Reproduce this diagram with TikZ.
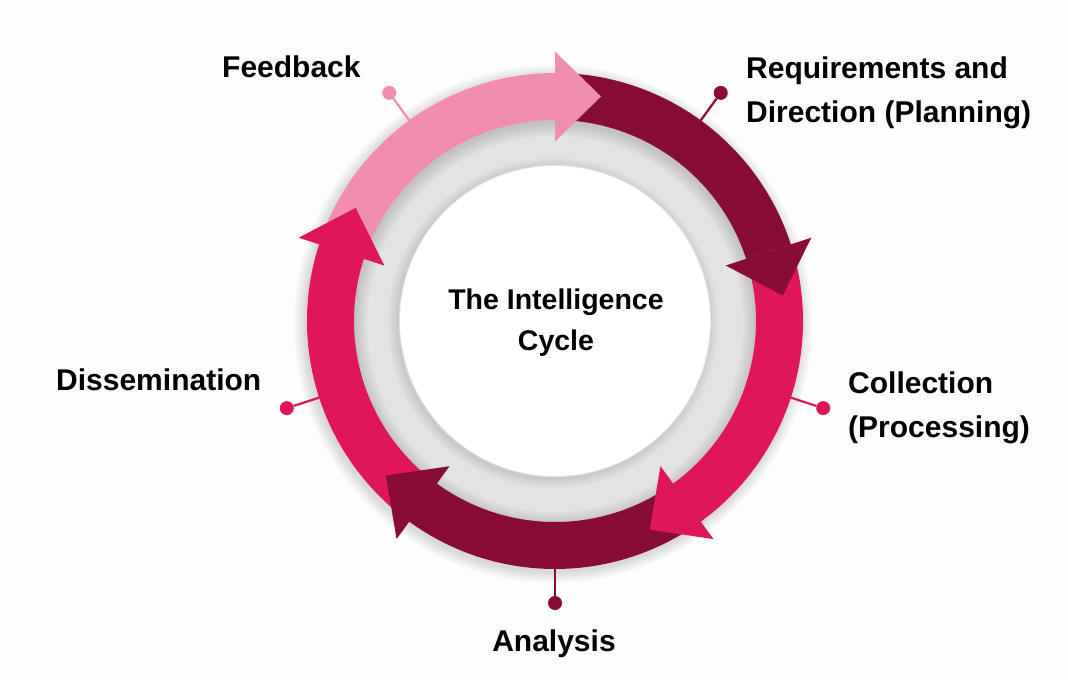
\documentclass[tikz,border=0pt]{standalone}
\usepackage{fontspec}
\setmainfont{Liberation Sans}
\usetikzlibrary{calc}
\definecolor{bgc}{HTML}{FEFDFD}
\definecolor{softpink}{HTML}{F18EAF}
\definecolor{wine}{HTML}{870D34}
\definecolor{crimson}{HTML}{DF1658}
\definecolor{ringgray}{HTML}{E3E3E3}
\begin{document}
\begin{tikzpicture}[x=1pt,y=1pt,
  lbltext/.style={font=\fontsize{30}{44}\selectfont\bfseries, inner sep=0pt, align=left},
  pindot/.style={circle, inner sep=0pt, minimum size=14pt},
  pinline/.style={line width=2.2pt}]
\fill[bgc] (0,0) rectangle (1068,681);
\path[use as bounding box] (0,0) rectangle (1068,681);
\begin{scope}[shift={(555,360)}]
  % soft shadow around the coloured ring
  \foreach \r in {249,251,...,259} {
    \fill[black, opacity=0.025] (-2,-3) circle[radius=\r];
  }
  % grey band and white core
  \fill[ringgray] (0,0) circle[radius=210];
  % soft shadow cast onto the grey band and the core
  \foreach \r in {200,198,...,188} {
    \fill[black, opacity=0.018, even odd rule] (0,0) circle[radius=210] (0,-3) circle[radius=\r];
  }
  \foreach \r in {157,159,...,165} {
    \fill[black, opacity=0.02] (-2,-2) circle[radius=\r];
  }
  \fill[ringgray] (0,0) circle[radius=156];
  \fill[white] (0,0) circle[radius=155];
  % arrow shafts, clockwise
  \foreach \s/\e/\c in {162/90/softpink, 90/18/wine, 18/-54/crimson, -54/-126/wine, -126/-198/crimson} {
    \fill[\c] (\s:248) arc[start angle=\s, end angle=\e, radius=248]
      -- (\e:201) arc[start angle=\e, end angle=\s, radius=201] -- cycle;
  }
  % arrow heads on top of the next shaft
  \foreach \b/\c in {90/softpink, 18/wine, -54/crimson, -126/wine, -198/crimson} {
    \fill[\c] (\b:179.5) -- (\b:269.5) -- ([shift={(\b:224.5)}]{\b-90}:46) -- cycle;
  }
  % pins
  \foreach \n/\a/\c in {fb/126/softpink, rq/54/wine, co/-18/crimson, an/-90/wine, di/198/crimson} {
    \coordinate (ring-\n) at (\a:248);
    \node[pindot, fill=\c] (dot-\n) at (\a:282) {};
    \draw[pinline, \c] (ring-\n) -- (dot-\n);
  }
\end{scope}
\node[lbltext, anchor=west] (feedback) at (222,614) {Feedback};
\node[lbltext, anchor=west] (requirements) at (746,588) {Requirements and\\Direction (Planning)};
\node[lbltext, anchor=west] (collection) at (848,273) {Collection\\(Processing)};
\node[lbltext, anchor=west] (dissemination) at (56,301) {Dissemination};
\node[lbltext, anchor=center] (analysis) at (554,37) {Analysis};
\node[lbltext, font=\fontsize{28.5}{41}\selectfont\bfseries, align=center] (title) at (556,358) {The Intelligence\\Cycle};
\end{tikzpicture}
\end{document}
